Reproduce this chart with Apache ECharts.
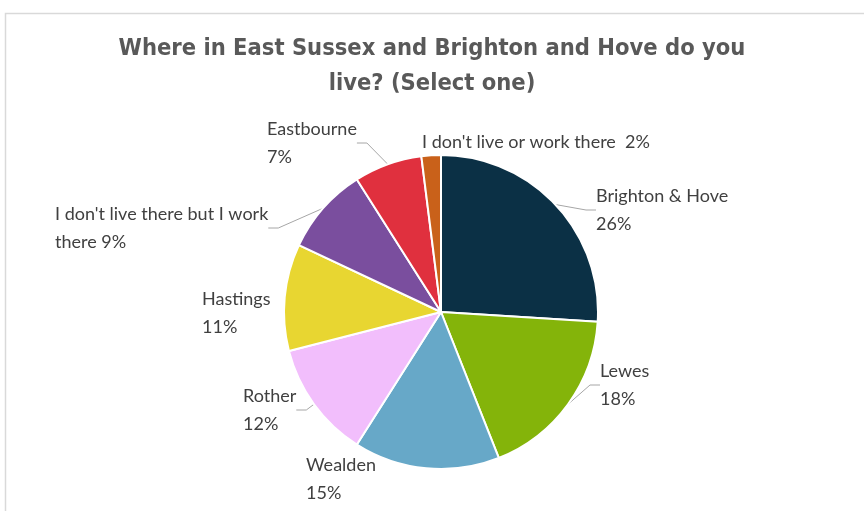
<!DOCTYPE html>
<html>
<head>
<meta charset="utf-8">
<script src="https://cdn.jsdelivr.net/npm/echarts@6/dist/echarts.min.js"></script>
<style>
html,body{margin:0;padding:0;background:#fff;}
#c{width:864px;height:511px;}
</style>
</head>
<body>
<div id="c"></div>
<script>
const titleText = "Where in East Sussex and Brighton and Hove do you\nlive? (Select one)";
const categories = ["Brighton & Hove", "Lewes", "Wealden", "Rother", "Hastings",
  "I don't live there but I work there", "Eastbourne", "I don't live or work there"];
const values = [26, 18, 15, 12, 11, 9, 7, 2];
const colors = ["#0B3045", "#84B40A", "#67A8C8", "#F2BEFC", "#E8D631", "#7A4E9E", "#E0303E", "#C9611A"];

// label placement (top-left of label text block)
const labelPos = [
  [596, 182], [600, 357], [306, 451], [243, 382], [202, 285], [55, 200], [267, 115], [422, 128]
];

const FONT = "Lato, 'Open Sans', sans-serif";

const chart = echarts.init(document.getElementById('c'));
chart.setOption({
  animation: false,
  title: {
    text: titleText,
    left: 'center',
    top: 26,
    textStyle: {
      fontFamily: "'DejaVu Sans Condensed', 'DejaVu Sans', sans-serif",
      fontWeight: 'bold',
      fontSize: 23.5,
      color: '#595959',
      lineHeight: 35
    }
  },
  graphic: [{
    type: 'rect',
    shape: {x: 5.5, y: 13.5, width: 900, height: 600},
    style: {fill: 'none', stroke: '#d9d9d9', lineWidth: 1.5},
    silent: true,
    z: -10
  }],
  series: [{
    type: 'pie',
    center: [441, 312],
    radius: 157,
    startAngle: 90,
    clockwise: true,
    avoidLabelOverlap: false,
    data: categories.map((n, i) => ({
      name: n, value: values[i], itemStyle: {color: colors[i]},
      labelLine: {show: i !== 2 && i !== 4 && i !== 7}
    })),
    itemStyle: {borderColor: '#fff', borderWidth: 2},
    label: {
      show: true,
      fontFamily: FONT,
      fontSize: 18,
      color: '#404040',
      lineHeight: 28,
      align: 'left',
      formatter: function (p) {
        if (p.dataIndex === 5) return "I don't live there but I work\nthere " + p.value + "%";
        if (p.dataIndex === 7) return p.name + "  " + p.value + "%";
        return p.name + "\n" + p.value + "%";
      }
    },
    labelLine: {
      show: true,
      length: 10,
      length2: 10,
      lineStyle: {color: '#a6a6a6', width: 1}
    },
    labelLayout: function (params) {
      const pos = labelPos[params.dataIndex];
      return {x: pos[0], y: pos[1], align: 'left', verticalAlign: 'top'};
    }
  }]
});
</script>
</body>
</html>
